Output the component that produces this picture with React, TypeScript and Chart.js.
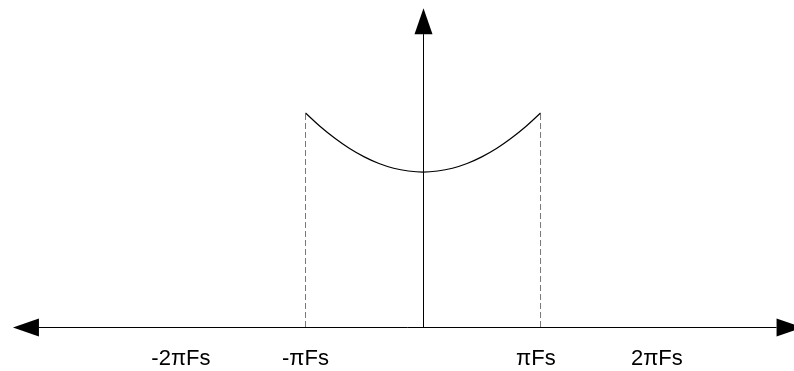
import React, { useEffect, useRef } from "react";
import { Chart, registerables } from "chart.js";

Chart.register(...registerables);

// Frequency axis in units of πFs
const curveX = [-1, -0.875, -0.75, -0.625, -0.5, -0.375, -0.25, -0.125, 0, 0.125, 0.25, 0.375, 0.5, 0.625, 0.75, 0.875, 1];
const curveY = [1.0, 0.937, 0.882, 0.834, 0.795, 0.764, 0.742, 0.729, 0.724, 0.729, 0.742, 0.764, 0.795, 0.834, 0.882, 0.937, 1.0];

const tickValues = [-2.06, -1.0, 0.96, 1.99];
const tickLabels = ["-2πFs", "-πFs", "πFs", "2πFs"];

const edgeX = [-1, 1];
const edgeTop = 1.0;

const X_MIN = -3.6;
const X_MAX = 3.157;
const Y_MAX = 1.528;
const AXIS_LEFT = -3.49;
const AXIS_RIGHT = 3.23;
const AXIS_TOP = 1.49;

const axesPlugin = {
  id: "arrowAxes",
  afterDatasetsDraw(chart: any) {
    const ctx = chart.ctx;
    const xs = chart.scales.x;
    const ys = chart.scales.y;
    const y0 = Math.round(ys.getPixelForValue(0)) + 0.5;
    const x0 = Math.round(xs.getPixelForValue(0)) + 0.5;
    const xl = xs.getPixelForValue(AXIS_LEFT);
    const xr = xs.getPixelForValue(AXIS_RIGHT);
    const yt = ys.getPixelForValue(AXIS_TOP);
    const L = 26;
    const H = 9;
    ctx.save();
    ctx.strokeStyle = "#000";
    ctx.fillStyle = "#000";
    ctx.lineWidth = 1;
    ctx.beginPath();
    ctx.moveTo(xl + L, y0);
    ctx.lineTo(xr - L, y0);
    ctx.moveTo(x0, y0);
    ctx.lineTo(x0, yt + L);
    ctx.stroke();
    ctx.beginPath();
    ctx.moveTo(xl, y0);
    ctx.lineTo(xl + L, y0 - H);
    ctx.lineTo(xl + L, y0 + H);
    ctx.closePath();
    ctx.fill();
    ctx.beginPath();
    ctx.moveTo(xr, y0);
    ctx.lineTo(xr - L, y0 - H);
    ctx.lineTo(xr - L, y0 + H);
    ctx.closePath();
    ctx.fill();
    ctx.beginPath();
    ctx.moveTo(x0, yt);
    ctx.lineTo(x0 - H, yt + L);
    ctx.lineTo(x0 + H, yt + L);
    ctx.closePath();
    ctx.fill();
    ctx.restore();
  },
};

export default function App() {
  const ref = useRef<HTMLCanvasElement | null>(null);
  useEffect(() => {
    if (!ref.current) return;
    const chart = new Chart(ref.current, {
      type: "line",
      data: {
        datasets: [
          {
            data: curveX.map((x, i) => ({ x, y: curveY[i] })),
            borderColor: "#000",
            borderWidth: 1.2,
            pointRadius: 0,
            tension: 0.4,
            fill: false,
          },
          ...edgeX.map((x) => ({
            data: [
              { x, y: 0 },
              { x, y: edgeTop },
            ],
            borderColor: "#777",
            borderWidth: 1,
            borderDash: [6, 3],
            pointRadius: 0,
            fill: false,
          })),
        ],
      },
      options: {
        responsive: false,
        animation: false,
        layout: { padding: 0 },
        plugins: { legend: { display: false }, tooltip: { enabled: false } },
        scales: {
          x: {
            type: "linear",
            min: X_MIN,
            max: X_MAX,
            grid: { display: false, drawTicks: false },
            border: { display: false },
            afterBuildTicks: (scale: any) => {
              scale.ticks = tickValues.map((v) => ({ value: v }));
            },
            afterFit: (scale: any) => {
              scale.height = 44;
            },
            ticks: {
              autoSkip: false,
              maxRotation: 0,
              padding: 19,
              color: "#000",
              font: { family: "'Liberation Sans', Arial, sans-serif", size: 22 },
              callback: (_v: any, i: number) => tickLabels[i],
            },
          },
          y: {
            display: false,
            min: 0,
            max: Y_MAX,
          },
        },
      },
      plugins: [axesPlugin],
    } as any);
    return () => chart.destroy();
  }, []);
  return (
    <div style={{ position: "absolute", left: 0, top: 0, width: 794, height: 371, background: "#fff" }}>
      <canvas ref={ref} width={794} height={371} style={{ display: "block" }} />
    </div>
  );
}
